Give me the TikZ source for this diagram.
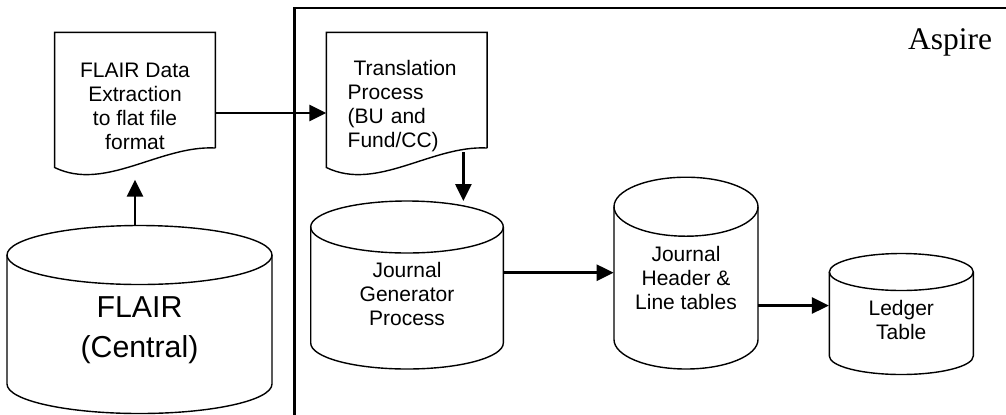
\documentclass[tikz,border=0pt]{standalone}
\usepackage{fontspec}
\setmainfont{Liberation Serif}
\setsansfont{Liberation Sans}
\usetikzlibrary{calc,arrows.meta}
\tikzset{
  shapeline/.style={line width=0.7pt},
  flow/.style={line width=1.4pt,-{Triangle[length=8.5pt,width=8pt]}},
  doctext/.style={font=\sffamily\fontsize{10.5}{12}\selectfont,inner sep=0pt,minimum width=80pt,minimum height=73.3pt},
  dbtext/.style={font=\sffamily\fontsize{10.5}{12}\selectfont,inner sep=0pt,align=center},
}
\def\docshape#1{\draw[shapeline] ($(#1.east)+(0,-42)$) -- (#1.north east) -- (#1.north west) -- ($(#1.west)+(0,-61.5)$) .. controls ($(#1.center)+(-30,-86)$) and ($(#1.center)+(25,-39)$) .. ($(#1.east)+(0,-42)$);}
\def\dbshape#1#2#3#4#5{%
  \draw[shapeline] ($(#1.center)+(-#2,#4)$) -- ($(#1.center)+(-#2,-#5)$) arc[start angle=180,end angle=360,x radius=#2,y radius=#3] -- ($(#1.center)+(#2,#4)$);
  \draw[shapeline] ($(#1.center)+(0,#4)$) ellipse [x radius=#2,y radius=#3];
  \coordinate (#1-top) at ($(#1.center)+(0,#4+#3)$);}

\begin{document}
\begin{tikzpicture}[x=0.5pt,y=0.5pt]
%%%%% START %%%%%
\useasboundingbox (0,0) rectangle (1006,-414);

\draw[line width=1.1pt] (294.5,-440) -- (294.5,-8) -- (1020,-8);
\node[font=\fontsize{15.75}{18}\selectfont,anchor=base,inner sep=0pt] (aspire) at (950,-49) {Aspire};

\node[doctext,align=center] (ext) at (135,-106) {FLAIR Data\\Extraction\\to flat file\\format};
\docshape{ext}
\node[doctext,text width=59pt,align=left] (trans) at (406.7,-106) {\hspace*{0.28em}Translation\\Process\\(BU and\\Fund/CC)};
\docshape{trans}

\node[dbtext,font=\sffamily\fontsize{15.15}{20}\selectfont,minimum width=132.5pt] (flair) at (139.5,-330) {FLAIR\\(Central)};
\dbshape{flair}{132.5}{29.5}{75}{54}
\node[dbtext,minimum width=96.3pt] (jg) at (407,-294) {Journal\\Generator\\Process};
\dbshape{jg}{96.3}{26}{67}{49}
\node[dbtext,minimum width=72pt] (jh) at (686,-278.3) {Journal\\Header \&\\Line tables};
\dbshape{jh}{72}{29.5}{71.6}{61.2}
\node[dbtext,minimum width=72pt] (ledger) at (901.3,-320) {Ledger\\Table};
\dbshape{ledger}{72}{18.5}{48}{36}

\draw[flow] (ext.center |- flair-top) -- (ext.south);
\draw[flow] ($(ext.east)+(0,-7)$) -- ($(trans.west)+(0,-7)$);
\draw[flow] ($(trans.east)+(-23.7,-46)$) coordinate (t-out) -- (t-out |- jg-top);
\draw[flow] ($(jg.east)+(0,21.3)$) coordinate (g-out) -- (g-out -| jh.west);
\draw[flow] ($(jh.east)+(0,-27.2)$) coordinate (h-out) -- (h-out -| ledger.west);
%%%%% END %%%%%
\end{tikzpicture}
\end{document}
